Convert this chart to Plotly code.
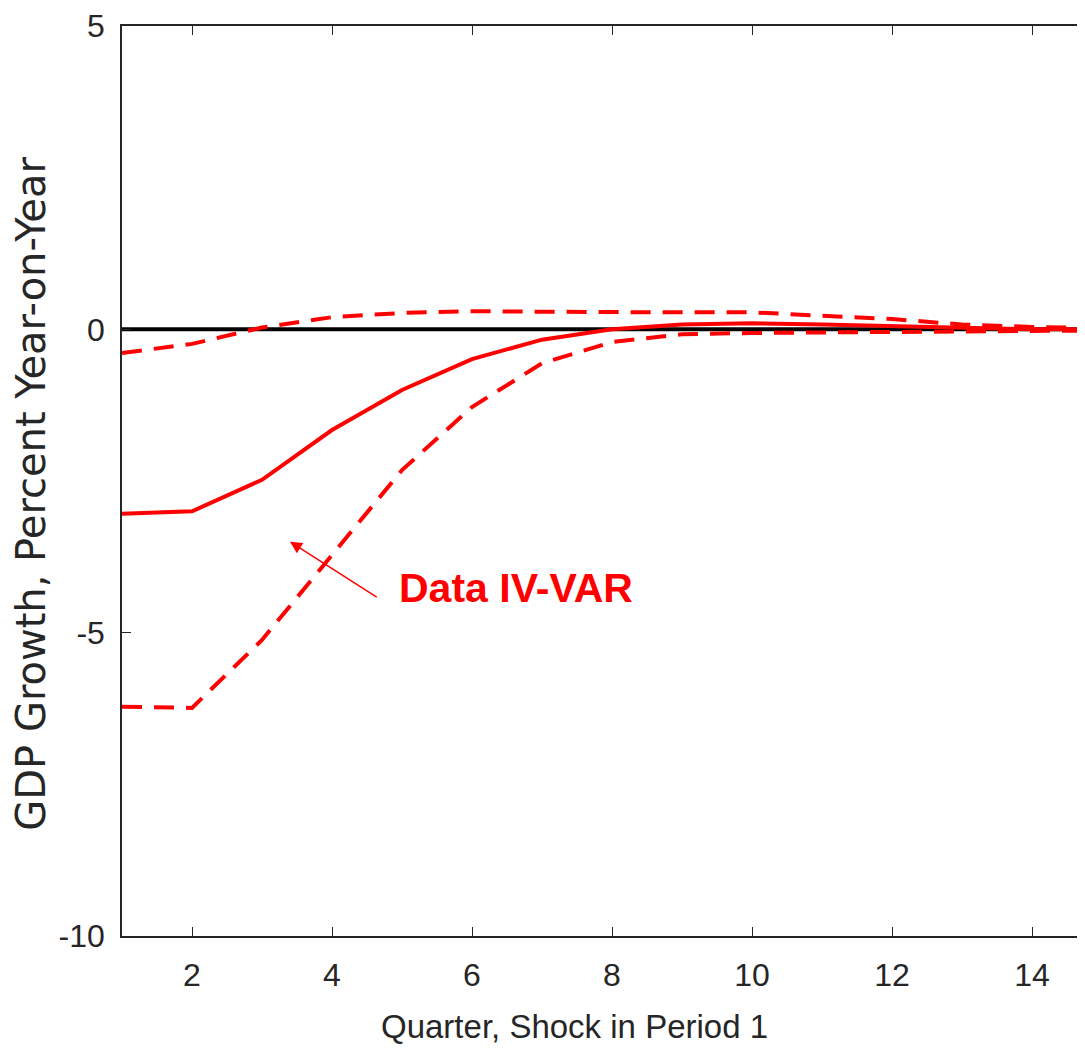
import plotly.graph_objects as go

quarters = list(range(1, 17))
median = [-3.04, -3.0, -2.48, -1.66, -1.0, -0.49, -0.17, 0.0, 0.08, 0.1, 0.08, 0.05, 0.02, 0.0, 0.0, 0.0]
upper = [-0.39, -0.24, 0.03, 0.2, 0.27, 0.3, 0.29, 0.28, 0.28, 0.28, 0.23, 0.17, 0.08, 0.04, 0.02, 0.01]
lower = [-6.22, -6.24, -5.12, -3.71, -2.32, -1.28, -0.56, -0.21, -0.08, -0.06, -0.05, -0.04, -0.03, -0.02, -0.01, -0.01]
x_ticks = [2, 4, 6, 8, 10, 12, 14]
y_ticks = [-10, -5, 0, 5]
y_tick_labels = ["-10", "-5", "0", "5"]

RED = "#ff0000"
TXT = "#262626"
fig = go.Figure()
fig.add_trace(go.Scatter(x=[1, 20], y=[0, 0], mode="lines",
                         line=dict(color="black", width=4), showlegend=False))
fig.add_trace(go.Scatter(x=quarters, y=upper, mode="lines",
                         line=dict(color=RED, width=4, dash="20px,12px"), showlegend=False))
fig.add_trace(go.Scatter(x=quarters, y=lower, mode="lines",
                         line=dict(color=RED, width=4, dash="20px,12px"), showlegend=False))
fig.add_trace(go.Scatter(x=quarters, y=median, mode="lines",
                         line=dict(color=RED, width=4), showlegend=False))

fig.add_annotation(x=3.4, y=-3.5, ax=4.66, ay=-4.43, axref="x", ayref="y",
                   xref="x", yref="y", text="", showarrow=True,
                   arrowhead=2, arrowsize=1.6, arrowwidth=1.5, arrowcolor=RED)
fig.add_annotation(x=4.93, y=-4.27, xref="x", yref="y", text="<b>Data IV-VAR</b>",
                   showarrow=False, xanchor="left", yanchor="middle",
                   font=dict(family="Liberation Sans, Arial", size=41, color=RED))

# axis titles placed as annotations to match the reference placement
fig.add_annotation(x=0.470, y=-0.0996, xref="paper", yref="paper",
                   text="Quarter, Shock in Period 1", showarrow=False,
                   xanchor="center", yanchor="middle",
                   font=dict(family="Liberation Sans, Arial", size=33, color=TXT))
fig.add_annotation(x=-0.0945, y=0.486, xref="paper", yref="paper",
                   text="GDP Growth, Percent Year-on-Year", showarrow=False,
                   textangle=-90, xanchor="center", yanchor="middle",
                   font=dict(family="DejaVu Sans, Liberation Sans", size=40, color=TXT))

axis_font = dict(family="Liberation Sans, Arial", size=32, color=TXT)
fig.update_layout(
    width=1077, height=1045,
    margin=dict(l=114, r=0, t=14, b=117),
    paper_bgcolor="white", plot_bgcolor="white",
    xaxis=dict(range=[1, 14.757], tickvals=x_ticks, ticks="inside", ticklen=9,
               tickcolor=TXT, showline=True, linecolor=TXT, linewidth=1.5,
               mirror="ticks", showgrid=False, zeroline=False, tickfont=axis_font,
               ticklabelstandoff=10, ticklabeloverflow="allow"),
    yaxis=dict(range=[-10, 5], tickvals=y_ticks, ticktext=y_tick_labels,
               ticks="inside", ticklen=9,
               tickcolor=TXT, showline=True, linecolor=TXT, linewidth=1.5,
               mirror=False, showgrid=False, zeroline=False, tickfont=axis_font,
               ticklabelstandoff=9, ticklabeloverflow="allow"),
)
fig.write_html("out.html")
